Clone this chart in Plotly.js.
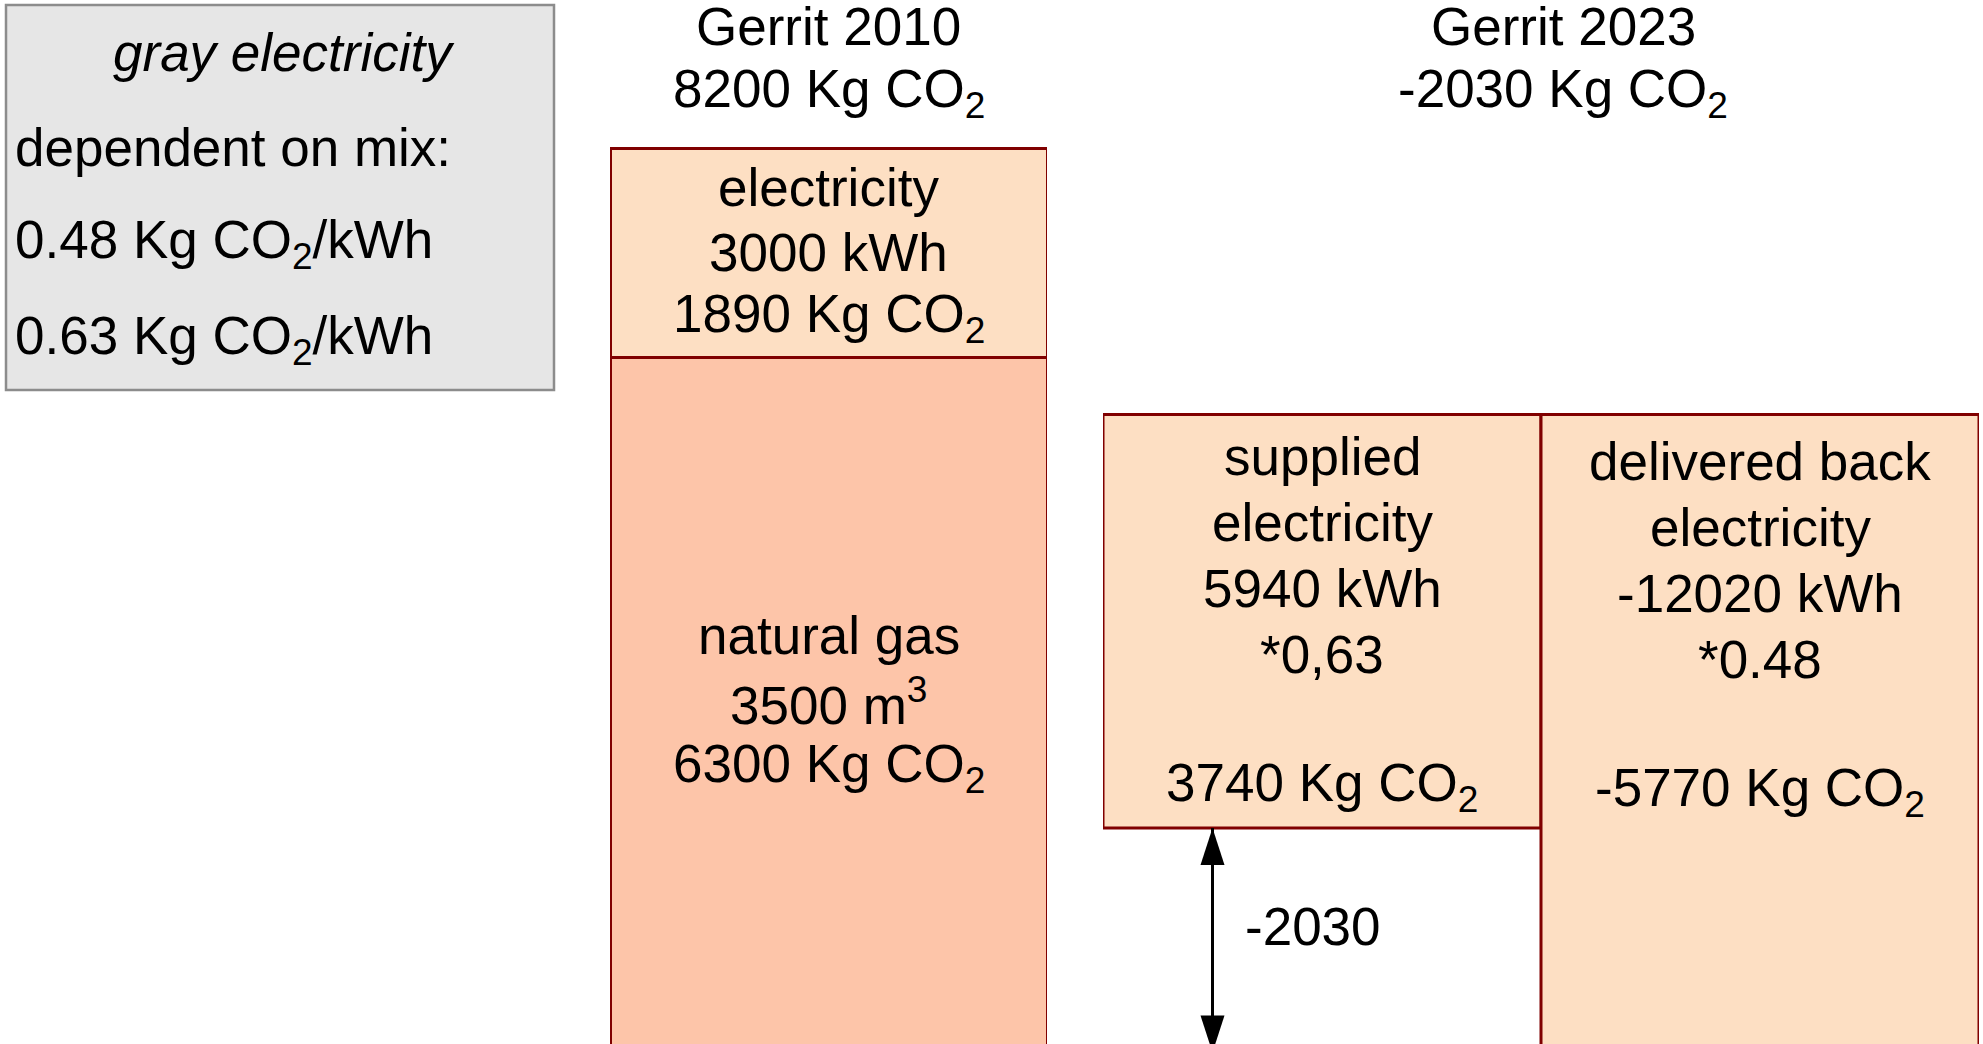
<!DOCTYPE html>
<html><head><meta charset="utf-8">
<script src="https://cdn.plot.ly/plotly-3.0.1.min.js"></script>
<style>html,body{margin:0;padding:0;background:#fff}#chart{width:1983px;height:1044px}</style>
</head><body><div id="chart"></div>
<script>
// ---- data ----
const cat2010 = ['Gerrit 2010'];
const gasKg = [6300];
const elecKg = [1890];
const cat2023 = ['supplied electricity', 'delivered back electricity'];
const flowKg = [3740, -5770];
const netKg = -2030;

const title2010 = ['Gerrit 2010', '8200 Kg CO<sub>2</sub>'];
const title2023 = ['Gerrit 2023', '-2030 Kg CO<sub>2</sub>'];
const elecLines = ['electricity', '3000 kWh', '1890 Kg CO<sub>2</sub>'];
const gasLines = ['natural gas', '3500 m<sup>3</sup>', '6300 Kg CO<sub>2</sub>'];
const suppliedLines = ['supplied', 'electricity', '5940 kWh', '*0,63', '', '3740 Kg CO<sub>2</sub>'];
const deliveredLines = ['delivered back', 'electricity', '-12020 kWh', '*0.48', '', '-5770 Kg CO<sub>2</sub>'];
const netLabel = '-2030';
const boxTitle = 'gray electricity';
const boxLines = ['dependent on mix:', '0.48 Kg CO<sub>2</sub>/kWh', '0.63 Kg CO<sub>2</sub>/kWh'];

// ---- style ----
const W = 1983, H = 1044;
const FONT = 'Liberation Sans, Arial, sans-serif';
const FS = 53;
const LIGHT = '#fddfc3';
const GAS = '#fdc5a9';
const EDGE = '#800000';
const px = v => v / W;           // horizontal pixel -> paper
const py = v => 1 - v / H;       // vertical pixel -> paper

function textLines(arr, base, spacing, shift) {
  const n = arr.length;
  const out = [];
  arr.forEach((t, i) => {
    if (t === '') return;
    out.push(Object.assign({
      text: t, showarrow: false, xanchor: 'center', yanchor: 'middle',
      yshift: ((n - 1) / 2 - i) * spacing + (shift || 0),
      font: {family: FONT, size: FS, color: '#000'}
    }, base));
  });
  return out;
}

const edge = {color: EDGE, width: 3};
const traces = [
  {type: 'bar', x: cat2010, y: gasKg, xaxis: 'x', yaxis: 'y',
   marker: {color: GAS, line: edge}, hoverinfo: 'skip'},
  {type: 'bar', x: cat2010, y: elecKg, xaxis: 'x', yaxis: 'y',
   marker: {color: LIGHT, line: edge}, hoverinfo: 'skip'},
  {type: 'waterfall', x: cat2023, y: flowKg, measure: ['relative', 'relative'],
   xaxis: 'x2', yaxis: 'y2', textinfo: 'none', hoverinfo: 'skip',
   connector: {visible: false},
   increasing: {marker: {color: LIGHT, line: edge}},
   decreasing: {marker: {color: LIGHT, line: edge}}}
];

const arrowX = -0.25;
let annotations = [];
annotations = annotations.concat(
  textLines(title2010, {xref: 'x', yref: 'paper', x: 0, y: py(59)}, 66),
  textLines(title2023, {xref: 'paper', yref: 'paper', x: px(1563), y: py(59)}, 66),
  textLines(elecLines, {xref: 'x', yref: 'y', x: 0, y: gasKg[0] + elecKg[0] / 2}, 65),
  textLines(gasLines, {xref: 'x', yref: 'y', x: 0, y: gasKg[0] / 2}, 66, 4),
  textLines(suppliedLines, {xref: 'x2', yref: 'y2', x: 0, y: flowKg[0] / 2}, 66),
  textLines(deliveredLines, {xref: 'x2', yref: 'y2', x: 1, y: flowKg[0] / 2}, 66, -5),
  [{xref: 'x2', yref: 'y2', x: arrowX + 0.07, y: netKg / 2, yshift: 14, text: netLabel,
    showarrow: false, xanchor: 'left', yanchor: 'middle', font: {family: FONT, size: FS, color: '#000'}},
   {xref: 'paper', yref: 'paper', x: px(284), y: py(53), text: '<i>' + boxTitle + '</i>',
    showarrow: false, xanchor: 'center', yanchor: 'middle', font: {family: FONT, size: FS, color: '#000'}}],
  boxLines.map((t, i) => ({xref: 'paper', yref: 'paper', x: px(13), y: py(148 + 96 * i), text: t,
    showarrow: false, xanchor: 'left', yanchor: 'middle', font: {family: FONT, size: FS, color: '#000'}}))
);

const shapes = [
  {type: 'rect', xref: 'paper', yref: 'paper', x0: px(6), x1: px(554), y0: py(390), y1: py(5),
   fillcolor: '#e6e6e6', line: {color: '#8c8c8c', width: 2.5}, layer: 'below'},
  {type: 'line', xref: 'x2', yref: 'y2', x0: arrowX, x1: arrowX, y0: 0, y1: netKg,
   line: {color: '#000', width: 3}},
  {type: 'path', xref: 'x2', yref: 'y2', xsizemode: 'pixel', ysizemode: 'pixel',
   xanchor: arrowX, yanchor: 0, path: 'M0,0L-12,-37L12,-37Z', fillcolor: '#000', line: {width: 0}},
  {type: 'path', xref: 'x2', yref: 'y2', xsizemode: 'pixel', ysizemode: 'pixel',
   xanchor: arrowX, yanchor: netKg, path: 'M0,0L-12,37L12,37Z', fillcolor: '#000', line: {width: 0}}
];

const layout = {
  width: W, height: H, margin: {l: 0, r: 0, t: 0, b: 0, pad: 0},
  paper_bgcolor: '#fff', plot_bgcolor: 'rgba(0,0,0,0)',
  showlegend: false, barmode: 'stack', bargap: 0, waterfallgap: 0,
  xaxis: {domain: [px(610), px(1047)], range: [-0.5, 0.5], type: 'category', visible: false, fixedrange: true},
  yaxis: {domain: [0, 1], range: [88, 9529], visible: false, fixedrange: true},
  xaxis2: {domain: [px(1103), px(1979)], range: [-0.5, 1.5], type: 'category', anchor: 'y2', visible: false, fixedrange: true},
  yaxis2: {domain: [0, 1], range: [-1953, 7488], anchor: 'x2', visible: false, fixedrange: true},
  annotations: annotations,
  shapes: shapes
};

Plotly.newPlot('chart', traces, layout, {displayModeBar: false, staticPlot: true});
</script>
</body></html>
